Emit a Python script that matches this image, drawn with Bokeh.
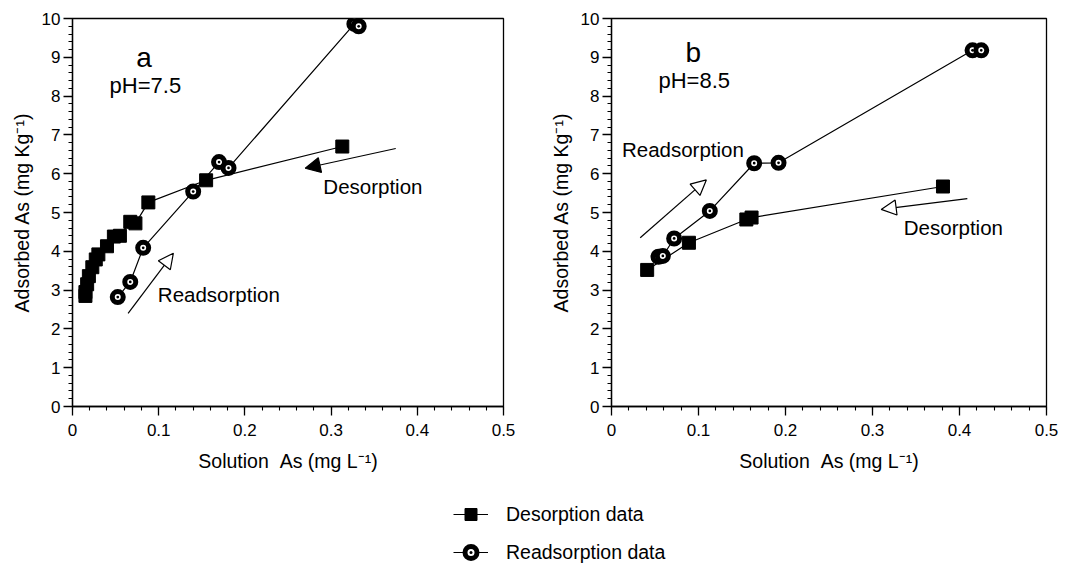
from bokeh.plotting import figure
from bokeh.layouts import column, row
from bokeh.models import (SingleIntervalTicker, NumeralTickFormatter, Arrow, NormalHead,
                          Label, Legend, LegendItem, Range1d, ColumnDataSource)
from bokeh.embed import file_html
from bokeh.resources import INLINE

FONT = "Liberation Sans"

# ---------------- data ----------------
# panel a (pH 7.5)
a_des_x = [0.015, 0.015, 0.017, 0.019, 0.023, 0.027, 0.030, 0.040, 0.048, 0.055, 0.067, 0.073, 0.088, 0.155, 0.313]
a_des_y = [2.85, 2.95, 3.15, 3.36, 3.59, 3.79, 3.92, 4.13, 4.38, 4.40, 4.76, 4.72, 5.26, 5.83, 6.70]
a_re_x = [0.0525, 0.067, 0.082, 0.140, 0.170, 0.181, 0.327, 0.332]
a_re_y = [2.82, 3.21, 4.09, 5.54, 6.30, 6.15, 9.86, 9.80]
# panel b (pH 8.5)
b_des_x = [0.041, 0.089, 0.155, 0.161, 0.381]
b_des_y = [3.52, 4.22, 4.82, 4.87, 5.67]
b_re_x = [0.054, 0.059, 0.072, 0.113, 0.164, 0.192, 0.415, 0.425]
b_re_y = [3.86, 3.88, 4.33, 5.04, 6.27, 6.28, 9.18, 9.18]

panel_letters = ["a", "b"]
panel_ph = ["pH=7.5", "pH=8.5"]
x_title = "Solution\u00a0\u00a0As (mg L\u207b\u00b9)"
y_title = "Adsorbed As (mg Kg\u207b\u00b9)"
legend_labels = ["Desorption data", "Readsorption data"]

# annotation positions (data units): letter, pH text, arrows, arrow captions
a_letter_pos = (0.083, 9.0)
b_letter_pos = (0.094, 9.12)
a_ph_pos = (0.043, 8.27)
b_ph_pos = (0.054, 8.39)
a_des_arrow = (0.375, 6.65, 0.270, 6.14)
a_re_arrow = (0.0645, 2.40, 0.117, 3.95)
b_des_arrow = (0.409, 5.36, 0.310, 5.08)
b_re_arrow = (0.033, 4.35, 0.109, 5.84)
a_des_text = (0.291, 5.68)
a_re_text = (0.099, 2.89)
b_des_text = (0.336, 4.61)
b_re_text = (0.012, 6.63)

SQ_SIZE = 13
CI_SIZE = 11
CI_LW = 5


def make_panel(width, bl, br, des_x, des_y, re_x, re_y, letter, lpos, ph, phpos,
               des_arrow, des_head_fill, re_arrow, des_text, re_text):
    p = figure(width=width, height=474, output_backend="svg", toolbar_location=None,
               x_range=Range1d(0, 0.5), y_range=Range1d(0, 10),
               min_border_left=bl, min_border_right=br, min_border_top=18, min_border_bottom=66)
    p.grid.visible = False
    p.outline_line_color = "black"
    p.outline_line_width = 1.3
    p.background_fill_color = "white"
    p.border_fill_color = "white"
    p.xaxis.ticker = SingleIntervalTicker(interval=0.1, num_minor_ticks=5)
    p.yaxis.ticker = SingleIntervalTicker(interval=1, num_minor_ticks=5)
    p.xaxis.formatter = NumeralTickFormatter(format="0[.]0")
    for ax in (p.xaxis, p.yaxis):
        ax.major_tick_in = 0
        ax.major_tick_out = 9
        ax.minor_tick_in = 0
        ax.minor_tick_out = 4
        ax.axis_line_width = 1.3
        ax.major_tick_line_width = 1.3
        ax.minor_tick_line_width = 1.1
        ax.axis_line_color = "black"
        ax.major_tick_line_color = "black"
        ax.minor_tick_line_color = "black"
        ax.major_label_text_font = FONT
        ax.major_label_text_font_size = "17px"
        ax.major_label_text_color = "black"
        ax.axis_label_text_font = FONT
        ax.axis_label_text_font_size = "19.5px"
        ax.axis_label_text_font_style = "normal"
        ax.axis_label_text_color = "black"
    p.xaxis.axis_label = x_title
    p.yaxis.axis_label = y_title
    p.xaxis.major_label_standoff = 8
    p.yaxis.major_label_standoff = 3
    p.xaxis.axis_label_standoff = 11
    p.yaxis.axis_label_standoff = 6

    src_d = ColumnDataSource(dict(x=des_x, y=des_y))
    src_r = ColumnDataSource(dict(x=re_x, y=re_y))
    p.line("x", "y", source=src_d, line_color="black", line_width=1.2)
    p.scatter("x", "y", source=src_d, marker="square", size=SQ_SIZE, fill_color="black", line_color="black")
    p.line("x", "y", source=src_r, line_color="black", line_width=1.2)
    p.scatter("x", "y", source=src_r, marker="circle_dot", size=CI_SIZE, fill_color="white",
              line_color="black", line_width=CI_LW)

    p.add_layout(Arrow(end=NormalHead(size=15, fill_color=des_head_fill, line_color="black", line_width=1.2),
                       x_start=des_arrow[0], y_start=des_arrow[1], x_end=des_arrow[2], y_end=des_arrow[3],
                       line_color="black", line_width=1.2))
    p.add_layout(Arrow(end=NormalHead(size=15, fill_color="white", line_color="black", line_width=1.2),
                       x_start=re_arrow[0], y_start=re_arrow[1], x_end=re_arrow[2], y_end=re_arrow[3],
                       line_color="black", line_width=1.2))
    p.add_layout(Label(x=lpos[0], y=lpos[1], text=letter, text_font=FONT, text_font_size="28px",
                       text_align="center", text_baseline="middle", text_color="black"))
    p.add_layout(Label(x=phpos[0], y=phpos[1], text=ph, text_font=FONT, text_font_size="22px",
                       text_align="left", text_baseline="middle", text_color="black"))
    p.add_layout(Label(x=des_text[0], y=des_text[1], text="Desorption", text_font=FONT, text_font_size="20.5px",
                       text_align="left", text_baseline="middle", text_color="black"))
    p.add_layout(Label(x=re_text[0], y=re_text[1], text="Readsorption", text_font=FONT, text_font_size="20.5px",
                       text_align="left", text_baseline="middle", text_color="black"))
    return p


pa = make_panel(528, 72, 25, a_des_x, a_des_y, a_re_x, a_re_y, panel_letters[0], a_letter_pos,
                panel_ph[0], a_ph_pos, a_des_arrow, "black", a_re_arrow, a_des_text, a_re_text)
pb = make_panel(545, 83, 27, b_des_x, b_des_y, b_re_x, b_re_y, panel_letters[1], b_letter_pos,
                panel_ph[1], b_ph_pos, b_des_arrow, "white", b_re_arrow, b_des_text, b_re_text)

# legend figure (renderers hold points outside the visible range so only the legend shows them)
lg = figure(width=1073, height=90, output_backend="svg", toolbar_location=None,
            x_range=Range1d(0, 1), y_range=Range1d(0, 1), min_border=0)
lg.axis.visible = False
lg.grid.visible = False
lg.outline_line_color = None
hidden = ColumnDataSource(dict(x=[-5, -4], y=[-5, -4]))
l1 = lg.line("x", "y", source=hidden, line_color="black", line_width=1.2)
s1 = lg.scatter("x", "y", source=hidden, marker="square", size=SQ_SIZE, fill_color="black", line_color="black")
l2 = lg.line("x", "y", source=hidden, line_color="black", line_width=1.2)
s2 = lg.scatter("x", "y", source=hidden, marker="circle_dot", size=CI_SIZE, fill_color="white",
                line_color="black", line_width=CI_LW)
leg = Legend(items=[LegendItem(label=legend_labels[0], renderers=[l1, s1], index=0),
                    LegendItem(label=legend_labels[1], renderers=[l2, s2], index=0)],
             location=(453, -3), padding=0, margin=0, spacing=8,
             glyph_width=35, glyph_height=30, label_height=30, label_standoff=18,
             label_text_font=FONT, label_text_font_size="19.5px", label_text_color="black",
             border_line_color=None, background_fill_alpha=0)
lg.add_layout(leg)

layout = column(row(pa, pb), lg)
open("out.html", "w").write(file_html(layout, INLINE))
